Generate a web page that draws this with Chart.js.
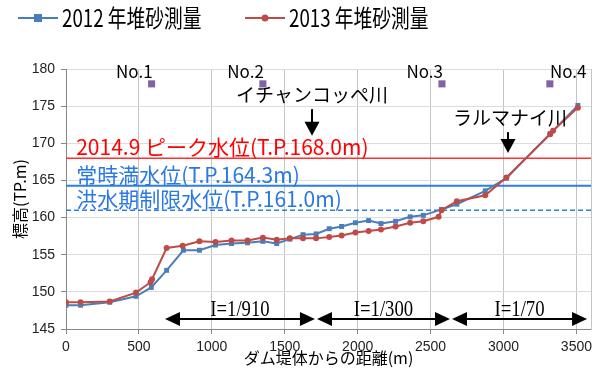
<!DOCTYPE html>
<html lang="ja">
<head>
<meta charset="utf-8">
<script src="https://cdn.jsdelivr.net/npm/chart.js@4.4.1/dist/chart.umd.min.js"></script>
<style>
  html, body { margin: 0; padding: 0; background: #fff; }
  #wrap { width: 598px; height: 372px; }
</style>
</head>
<body>
<div id="wrap"><canvas id="sedimentChart" width="598" height="372"></canvas></div>
<script>
// 堆砂測量 縦断図（ダム堤体からの距離と河床標高）
const dist2012 = [0, 100, 300, 480, 585, 690, 805, 915, 1025, 1135, 1245, 1350, 1445, 1535, 1625, 1715, 1805, 1890, 1985, 2075, 2160, 2260, 2360, 2450, 2575, 2680, 2875, 3020, 3320, 3510];
const elev2012 = [148.2, 148.2, 148.6, 149.4, 150.6, 152.9, 155.6, 155.6, 156.3, 156.5, 156.6, 156.8, 156.5, 157.1, 157.7, 157.8, 158.5, 158.8, 159.3, 159.6, 159.2, 159.5, 160.1, 160.3, 161.1, 161.8, 163.6, 165.3, 171.3, 175.1];
const dist2013 = [0, 100, 300, 480, 580, 590, 690, 800, 915, 1025, 1135, 1245, 1350, 1445, 1535, 1625, 1715, 1805, 1890, 1985, 2075, 2160, 2260, 2360, 2450, 2555, 2575, 2680, 2875, 3020, 3320, 3340, 3510];
const elev2013 = [148.6, 148.6, 148.7, 149.9, 151.3, 151.7, 155.9, 156.2, 156.8, 156.7, 156.9, 156.9, 157.3, 157.0, 157.2, 157.2, 157.2, 157.4, 157.6, 158.0, 158.2, 158.4, 158.8, 159.3, 159.5, 160.1, 161.0, 162.2, 163.0, 165.4, 171.2, 171.7, 174.8];

const stationNames = ['No.1', 'No.2', 'No.3', 'No.4'];
const stationDist = [587, 1350, 2578, 3318];
const stationElev = [178, 178, 178, 178];

const waterLevels = [168.0, 164.3, 161.0];
const waterLabels = ['2014.9 ピーク水位(T.P.168.0m)', '常時満水位(T.P.164.3m)', '洪水期制限水位(T.P.161.0m)'];

const riverNames = ['イチャンコッペ川', 'ラルマナイ川'];
const riverDist = [1687, 3031];

const slopeLabels = ['I=1/910', 'I=1/300', 'I=1/70'];
const slopeFrom = [679, 1721, 2647];
const slopeTo = [1707, 2633, 3573];

const xTicks = [0, 500, 1000, 1500, 2000, 2500, 3000, 3500];
const yTicks = [145, 150, 155, 160, 165, 170, 175, 180];

const toPoints = (xs, ys) => xs.map((v, i) => ({ x: v, y: ys[i] }));
const levelLine = (v) => [{ x: 0, y: v }, { x: 3600, y: v }];

const JP = '"Noto Sans CJK JP", sans-serif';
const blue = '#4a7ebb';
const red = '#be4b48';
const levelColors = ['#ff3030', '#2b7de9', '#2b7de9'];
const textColors = ['#ff0000', '#2a78e4', '#2a78e4'];

function triangle(ctx, tipX, tipY, dir, len, half) {
  ctx.beginPath();
  ctx.moveTo(tipX, tipY);
  if (dir === 'left') {
    ctx.lineTo(tipX + len, tipY - half);
    ctx.lineTo(tipX + len, tipY + half);
  } else if (dir === 'right') {
    ctx.lineTo(tipX - len, tipY - half);
    ctx.lineTo(tipX - len, tipY + half);
  } else {
    ctx.lineTo(tipX - half, tipY - len);
    ctx.lineTo(tipX + half, tipY - len);
  }
  ctx.closePath();
  ctx.fill();
}

// 水位・河川名・勾配などの注記
const annotations = {
  id: 'annotations',
  afterDatasetsDraw(chart) {
    const { ctx, scales: { x, y } } = chart;
    ctx.save();

    ctx.font = '21px ' + JP;
    ctx.textAlign = 'left';
    ctx.textBaseline = 'alphabetic';
    waterLabels.forEach((t, i) => {
      ctx.fillStyle = textColors[i];
      ctx.fillText(t, x.getPixelForValue(70), y.getPixelForValue(waterLevels[i]) - 3);
    });

    // 測点名
    ctx.fillStyle = '#000';
    ctx.font = '17px ' + JP;
    ctx.textBaseline = 'middle';
    stationNames.forEach((t, i) => {
      const last = i === stationNames.length - 1;
      ctx.textAlign = last ? 'left' : 'right';
      ctx.fillText(t, x.getPixelForValue(stationDist[i]) + (last ? 0 : 1), y.getPixelForValue(179.7));
    });

    // 流入河川
    const riverY = [176.5, 173.5];
    const shaftTop = [174.6, 171.5];
    const tipY = [171.0, 168.7];
    ctx.font = '19px ' + JP;
    ctx.textAlign = 'center';
    ctx.strokeStyle = '#000';
    ctx.lineWidth = 2;
    riverNames.forEach((t, i) => {
      const px = x.getPixelForValue(riverDist[i]);
      ctx.fillText(t, px + (i ? 2 : 0), y.getPixelForValue(riverY[i]));
      const tip = y.getPixelForValue(tipY[i]);
      ctx.beginPath();
      ctx.moveTo(px, y.getPixelForValue(shaftTop[i]));
      ctx.lineTo(px, tip - 12);
      ctx.stroke();
      triangle(ctx, px, tip, 'down', 14, 7.5);
    });

    // 河床勾配
    const ay = y.getPixelForValue(146.35);
    slopeLabels.forEach((t, i) => {
      const x1 = x.getPixelForValue(slopeFrom[i]);
      const x2 = x.getPixelForValue(slopeTo[i]);
      ctx.beginPath();
      ctx.moveTo(x1 + 12, ay);
      ctx.lineTo(x2 - 12, ay);
      ctx.stroke();
      triangle(ctx, x1, ay, 'left', 15, 7);
      triangle(ctx, x2, ay, 'right', 15, 7);
      ctx.save();
      ctx.translate((x1 + x2) / 2, ay - 3);
      ctx.scale(0.78, 1);
      ctx.font = '24px "Liberation Serif", serif';
      ctx.textAlign = 'center';
      ctx.textBaseline = 'alphabetic';
      ctx.fillText(t, 0, 0);
      ctx.restore();
    });

    ctx.restore();
  }
};

// 凡例（線＋マーカー）
const legendRow = {
  id: 'legendRow',
  afterDraw(chart) {
    const ctx = chart.ctx;
    const starts = [18, 245];
    [chart.data.datasets[1], chart.data.datasets[0]].forEach((ds, i) => {
      const x0 = starts[i], yc = 18;
      ctx.save();
      ctx.strokeStyle = ds.borderColor;
      ctx.fillStyle = ds.borderColor;
      ctx.lineWidth = 2;
      ctx.beginPath();
      ctx.moveTo(x0, yc);
      ctx.lineTo(x0 + 40, yc);
      ctx.stroke();
      if (ds.pointStyle === 'rect') {
        ctx.fillRect(x0 + 16, yc - 4, 8, 8);
      } else {
        ctx.beginPath();
        ctx.arc(x0 + 20, yc, 3.5, 0, Math.PI * 2);
        ctx.fill();
      }
      ctx.fillStyle = '#000';
      ctx.translate(x0 + 44, yc);
      ctx.scale(0.78, 1);
      ctx.font = '24px ' + JP;
      ctx.textBaseline = 'middle';
      ctx.fillText(ds.label, 0, 0);
      ctx.restore();
    });
  }
};

const ctx = document.getElementById('sedimentChart').getContext('2d');
new Chart(ctx, {
  type: 'line',
  data: {
    datasets: [
      {
        label: '2013 年堆砂測量',
        data: toPoints(dist2013, elev2013),
        borderColor: red,
        backgroundColor: red,
        borderWidth: 2,
        pointStyle: 'circle',
        pointRadius: 3,
        pointBorderWidth: 0,
        order: 0
      },
      {
        label: '2012 年堆砂測量',
        data: toPoints(dist2012, elev2012),
        borderColor: blue,
        backgroundColor: blue,
        borderWidth: 2,
        pointStyle: 'rect',
        pointRadius: 3.5,
        pointBorderWidth: 0,
        order: 1
      },
      {
        label: 'ピーク水位',
        data: levelLine(waterLevels[0]),
        borderColor: levelColors[0],
        borderWidth: 1.5,
        pointRadius: 0,
        order: 2
      },
      {
        label: '常時満水位',
        data: levelLine(waterLevels[1]),
        borderColor: levelColors[1],
        borderWidth: 2,
        pointRadius: 0,
        order: 2
      },
      {
        label: '洪水期制限水位',
        data: levelLine(waterLevels[2]),
        borderColor: levelColors[2],
        borderWidth: 1.5,
        borderDash: [5, 3],
        pointRadius: 0,
        order: 2
      },
      {
        label: '測点',
        data: toPoints(stationDist, stationElev),
        showLine: false,
        pointStyle: 'rect',
        pointRadius: 5,
        pointBorderWidth: 0,
        backgroundColor: '#8064a2',
        borderColor: '#8064a2',
        order: 3
      }
    ]
  },
  options: {
    responsive: false,
    animation: false,
    layout: { padding: { top: 69, right: 7, bottom: 0, left: 0 } },
    plugins: {
      legend: { display: false },
      tooltip: { enabled: false }
    },
    scales: {
      x: {
        type: 'linear',
        min: xTicks[0],
        max: 3600,
        afterFit: (s) => { s.height = 43; },
        afterBuildTicks: (s) => { s.ticks = xTicks.map(v => ({ value: v })); },
        ticks: {
          padding: 5,
          color: '#222',
          autoSkip: false,
          maxRotation: 0,
          callback: (v) => String(v),
          font: { family: '"Liberation Sans", sans-serif', size: 14 }
        },
        grid: { color: '#c4c4c4', tickLength: 5, tickColor: '#888' },
        border: { color: '#888' },
        title: {
          display: true,
          text: 'ダム堤体からの距離(m)',
          color: '#000',
          font: { family: JP, size: 16 },
          padding: { top: 0, bottom: 4 }
        }
      },
      y: {
        min: yTicks[0],
        max: yTicks[yTicks.length - 1],
        afterFit: (s) => { s.width = 66; },
        afterBuildTicks: (s) => { s.ticks = yTicks.map(v => ({ value: v })); },
        ticks: {
          padding: 6,
          color: '#222',
          callback: (v) => String(v),
          font: { family: '"Liberation Sans", sans-serif', size: 14 }
        },
        grid: { color: '#dcdcdc', tickLength: 5, tickColor: '#888' },
        border: { color: '#888' },
        title: {
          display: true,
          text: '標高(TP.m)',
          color: '#000',
          font: { family: JP, size: 16 },
          padding: { top: 10, bottom: 0 }
        }
      },
      yRight: {
        position: 'right',
        min: yTicks[0],
        max: yTicks[yTicks.length - 1],
        afterFit: (s) => { s.width = 0; },
        ticks: { display: false },
        grid: { drawOnChartArea: false, drawTicks: false },
        border: { color: '#c4c4c4' }
      }
    }
  },
  plugins: [annotations, legendRow]
});
</script>
</body>
</html>
